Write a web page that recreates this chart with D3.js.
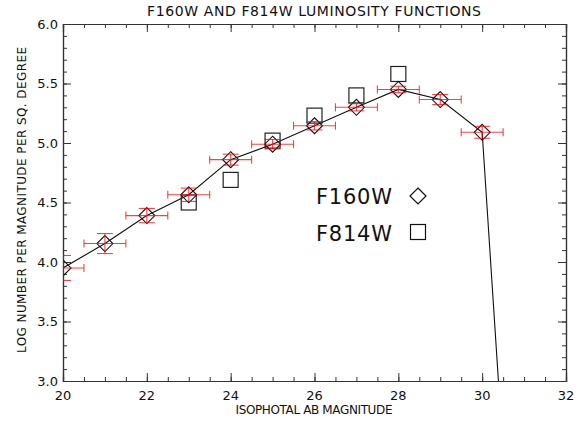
<!DOCTYPE html>
<html>
<head>
<meta charset="utf-8">
<script src="https://cdn.jsdelivr.net/npm/d3@7"></script>
<style>
  body { margin: 0; background: #fff; }
  text { font-family: "DejaVu Sans ExtraLight", "DejaVu Sans", sans-serif; fill: #111; }
</style>
</head>
<body>
<div id="chart"></div>
<script>
// F160W counts (diamonds, joined by the line)
const magF160 = [20, 21, 22, 23, 24, 25, 26, 27, 28, 29, 30, 31];
const logF160 = [3.95, 4.155, 4.39, 4.565, 4.86, 4.99, 5.145, 5.30, 5.45, 5.365, 5.09, -0.3];
const errF160 = [0.105, 0.084, 0.06, 0.056, 0.046, 0.04, 0.035, 0.03, 0.027, 0.042, 0.05];

// F814W counts (squares)
const magF814 = [23, 24, 25, 26, 27, 28];
const logF814 = [4.50, 4.69, 5.02, 5.23, 5.40, 5.58];

const xTicks = [20, 22, 24, 26, 28, 30, 32];
const yTicks = [3.0, 3.5, 4.0, 4.5, 5.0, 5.5, 6.0];

const margin = {top: 24, right: 14, bottom: 40, left: 63};
const width = 580 - margin.left - margin.right;
const height = 421 - margin.top - margin.bottom;

const svg = d3
  .select("#chart")
  .append("svg")
  .attr("width", 580)
  .attr("height", 421);

const g = svg
  .append("g")
  .attr("transform", `translate(${margin.left},${margin.top})`);

const xScale = d3.scaleLinear().domain([20, 32]).range([0, width]);
const yScale = d3.scaleLinear().domain([3, 6]).range([height, 0]);

g.append("clipPath")
  .attr("id", "clip")
  .append("rect")
  .attr("width", width)
  .attr("height", height);

// Axes: major + minor ticks on all four sides, labels drawn separately
const axisColor = "#333";
function drawAxis(axisFn, scale, major, minor, transform) {
  const minorAxis = axisFn(scale).tickValues(minor).tickSize(4).tickFormat("");
  const majorAxis = axisFn(scale).tickValues(major).tickSize(8).tickFormat("");
  const a = g.append("g").attr("transform", transform).call(minorAxis);
  const b = g.append("g").attr("transform", transform).call(majorAxis);
  [a, b].forEach((s) => {
    s.select(".domain").attr("stroke", axisColor).attr("stroke-width", 1.2);
    s.selectAll(".tick line").attr("stroke", axisColor);
  });
}

const xMinor = d3.range(20, 32.01, 0.5);
const yMinor = d3.range(3, 6.001, 0.1);
const fx = d3.format("d");
const fy = d3.format(".1f");

drawAxis((s) => d3.axisTop(s), xScale, xTicks, xMinor, `translate(0,${height})`);
drawAxis((s) => d3.axisBottom(s), xScale, xTicks, xMinor, "translate(0,0)");
drawAxis((s) => d3.axisRight(s), yScale, yTicks, yMinor, "translate(0,0)");
drawAxis((s) => d3.axisLeft(s), yScale, yTicks, yMinor, `translate(${width},0)`);

// tick labels
g.selectAll(".xlab")
  .data(xTicks)
  .join("text")
  .attr("x", (d) => xScale(d))
  .attr("y", height + 19)
  .attr("text-anchor", "middle")
  .style("font-size", "13px")
  .text((d) => fx(d));

g.selectAll(".ylab")
  .data(yTicks)
  .join("text")
  .attr("x", -5)
  .attr("y", (d) => yScale(d) + 4.5)
  .attr("text-anchor", "end")
  .style("font-size", "13px")
  .text((d) => fy(d));

// Line through F160W points
const plot = g.append("g").attr("clip-path", "url(#clip)");
plot
  .append("path")
  .datum(magF160.map((m, i) => [m, logF160[i]]))
  .attr("fill", "none")
  .attr("stroke", "#111")
  .attr("stroke-width", 1.1)
  .attr("d", d3.line().x((d) => xScale(d[0])).y((d) => yScale(d[1])));

// Squares for F814W
const sq = 15;
plot
  .selectAll(".sq")
  .data(magF814.map((m, i) => [m, logF814[i]]))
  .join("rect")
  .attr("x", (d) => xScale(d[0]) - sq / 2)
  .attr("y", (d) => yScale(d[1]) - sq / 2)
  .attr("width", sq)
  .attr("height", sq)
  .attr("fill", "none")
  .attr("stroke", "#222")
  .attr("stroke-width", 1.2);

// Diamonds for F160W
const dm = 8;
const diamond = (cx, cy) =>
  `M${cx},${cy - dm}L${cx + dm},${cy}L${cx},${cy + dm}L${cx - dm},${cy}Z`;
const pts = errF160.map((e, i) => [magF160[i], logF160[i], e]);
plot
  .selectAll(".dm")
  .data(pts)
  .join("path")
  .attr("d", (d) => diamond(xScale(d[0]), yScale(d[1])))
  .attr("fill", "none")
  .attr("stroke", "#111")
  .attr("stroke-width", 1.1);

// Error bars
const red = "#f00";
const eb = plot.append("g").attr("stroke", red).attr("stroke-opacity", 0.75).attr("stroke-width", 1.1);
pts.forEach((d) => {
  const cx = xScale(d[0]);
  const cy = yScale(d[1]);
  const x0 = xScale(d[0] - 0.5);
  const x1 = xScale(d[0] + 0.5);
  const y0 = yScale(d[1] - d[2]);
  const y1 = yScale(d[1] + d[2]);
  eb.append("line").attr("x1", x0).attr("x2", x1).attr("y1", cy).attr("y2", cy);
  eb.append("line").attr("x1", x0).attr("x2", x0).attr("y1", cy - 4).attr("y2", cy + 4);
  eb.append("line").attr("x1", x1).attr("x2", x1).attr("y1", cy - 4).attr("y2", cy + 4);
  eb.append("line").attr("x1", cx).attr("x2", cx).attr("y1", y0).attr("y2", y1);
  eb.append("line").attr("x1", cx - 8).attr("x2", cx + 8).attr("y1", y0).attr("y2", y0);
  eb.append("line").attr("x1", cx - 8).attr("x2", cx + 8).attr("y1", y1).attr("y2", y1);
});

// Legend
const legend = svg.append("g");
legend.append("text").attr("x", 354).attr("y", 204).attr("text-anchor", "middle")
  .style("font-size", "21px").attr("textLength", 76).text("F160W");
legend.append("path").attr("d", diamond(418, 196)).attr("fill", "none")
  .attr("stroke", "#111").attr("stroke-width", 1.2);
legend.append("text").attr("x", 354).attr("y", 241).attr("text-anchor", "middle")
  .style("font-size", "21px").attr("textLength", 76).text("F814W");
legend.append("rect").attr("x", 418 - sq / 2).attr("y", 232 - sq / 2)
  .attr("width", sq).attr("height", sq).attr("fill", "none")
  .attr("stroke", "#111").attr("stroke-width", 1.2);

// Titles
svg.append("text").attr("x", 314).attr("y", 16).attr("text-anchor", "middle")
  .style("font-size", "14px").attr("textLength", 334)
  .text("F160W AND F814W LUMINOSITY FUNCTIONS");
svg.append("text").attr("x", 314).attr("y", 414).attr("text-anchor", "middle")
  .style("font-size", "12px").attr("textLength", 157)
  .text("ISOPHOTAL AB MAGNITUDE");
svg.append("text").attr("transform", "translate(26,200) rotate(-90)")
  .attr("text-anchor", "middle").style("font-size", "12px").attr("textLength", 306)
  .text("LOG NUMBER PER MAGNITUDE PER SQ. DEGREE");
</script>
</body>
</html>
